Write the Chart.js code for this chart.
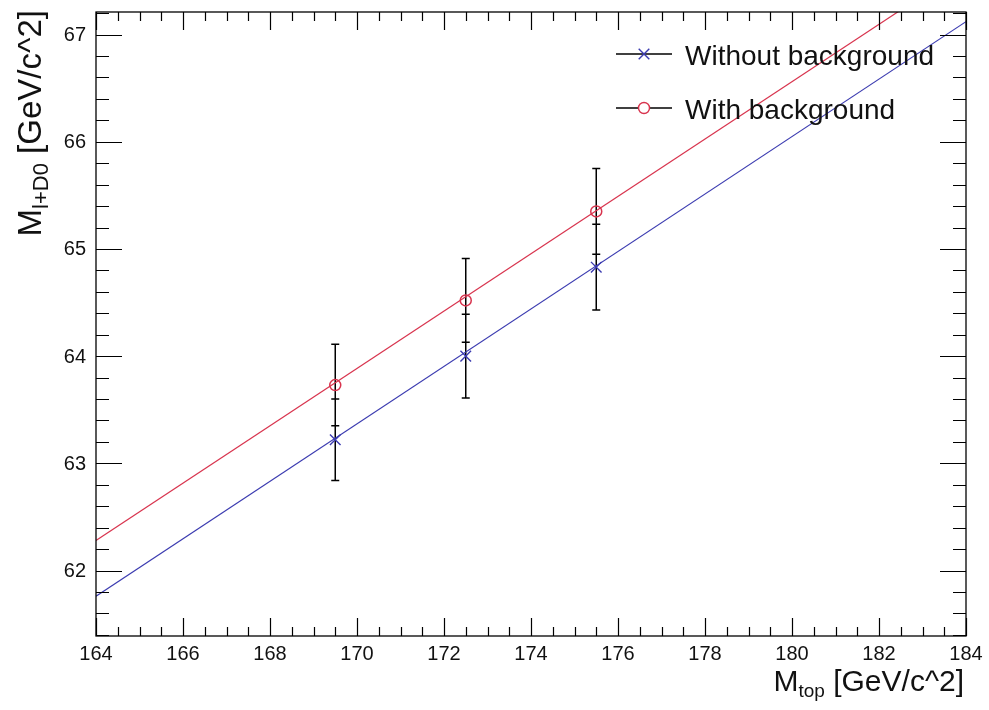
<!DOCTYPE html>
<html>
<head>
<meta charset="utf-8">
<script src="https://cdn.jsdelivr.net/npm/chart.js@4.4.1/dist/chart.umd.min.js"></script>
<style>
  html, body { margin: 0; padding: 0; background: #fff; }
  #wrap { width: 989px; height: 710px; }
</style>
</head>
<body>
<div id="wrap"><canvas id="massChart" width="989" height="710"></canvas></div>
<script>
// generated top masses and reconstructed M(l+D0) peak positions
const mTop = [169.5, 172.5, 175.5];
const noBkg = [63.22, 64.00, 64.83];
const noBkgErr = [0.38, 0.39, 0.40];
const withBkg = [63.73, 64.52, 65.35];
const withBkgErr = [0.38, 0.39, 0.40];

// straight-line fits, end points at the axis limits
const fitX = [164, 184];
const fitNoBkg = [61.76, 67.12];
const fitWithBkg = [62.28, 67.63];

const xRange = [164, 184];
const yRange = [61.39, 67.21];
const xLabels = ['164', '166', '168', '170', '172', '174', '176', '178', '180', '182', '184'];
const yLabels = ['62', '63', '64', '65', '66', '67'];

const BLUE = '#3b3bb0';
const RED = '#d8344e';
const INK = '#111';
const FONT = '"Liberation Sans", Arial, Helvetica, sans-serif';

const pts = (xs, ys) => xs.map((x, i) => ({ x: x, y: ys[i] }));

// ROOT-like frame: ticks inside on all four sides, numbers outside
const frameTicks = {
  id: 'frameTicks',
  afterDraw(chart) {
    const { ctx, chartArea: a, scales } = chart;
    const xs = scales.x, ys = scales.y;
    ctx.save();
    ctx.strokeStyle = '#000';
    ctx.lineWidth = 1.3;
    ctx.strokeRect(a.left, a.top, a.right - a.left, a.bottom - a.top);

    ctx.beginPath();
    for (let i = Math.ceil(xs.min / 0.5); i * 0.5 <= xs.max + 1e-9; i++) {
      const px = Math.round(xs.getPixelForValue(i * 0.5)) + 0.5;
      const len = (i % 4 === 0) ? 18 : 9;
      ctx.moveTo(px, a.bottom); ctx.lineTo(px, a.bottom - len);
      ctx.moveTo(px, a.top); ctx.lineTo(px, a.top + len);
    }
    for (let i = Math.ceil(ys.min / 0.2 - 1e-9); i * 0.2 <= ys.max + 1e-9; i++) {
      const py = Math.round(ys.getPixelForValue(i * 0.2)) + 0.5;
      const len = (i % 5 === 0) ? 26 : 13;
      ctx.moveTo(a.left, py); ctx.lineTo(a.left + len, py);
      ctx.moveTo(a.right, py); ctx.lineTo(a.right - len, py);
    }
    ctx.lineWidth = 1.2;
    ctx.stroke();

    ctx.fillStyle = INK;
    ctx.font = `20px ${FONT}`;
    ctx.textAlign = 'center';
    ctx.textBaseline = 'alphabetic';
    xLabels.forEach(t => ctx.fillText(t, xs.getPixelForValue(+t), a.bottom + 24));
    ctx.textAlign = 'right';
    ctx.textBaseline = 'middle';
    yLabels.forEach(t => ctx.fillText(t, a.left - 10, ys.getPixelForValue(+t) + 1));
    ctx.restore();
  }
};

// vertical error bars with small caps, drawn under the markers
const errorBars = {
  id: 'errorBars',
  beforeDatasetsDraw(chart) {
    const { ctx, scales } = chart;
    const sets = [[noBkg, noBkgErr], [withBkg, withBkgErr]];
    ctx.save();
    ctx.strokeStyle = '#000';
    ctx.lineWidth = 1.5;
    ctx.beginPath();
    sets.forEach(([vals, errs]) => {
      vals.forEach((v, i) => {
        const px = scales.x.getPixelForValue(mTop[i]);
        const lo = scales.y.getPixelForValue(v - errs[i]);
        const hi = scales.y.getPixelForValue(v + errs[i]);
        ctx.moveTo(px, lo); ctx.lineTo(px, hi);
        ctx.moveTo(px - 4, lo); ctx.lineTo(px + 4, lo);
        ctx.moveTo(px - 4, hi); ctx.lineTo(px + 4, hi);
      });
    });
    ctx.stroke();
    ctx.restore();
  }
};

function drawParts(ctx, parts) {
  let x = 0;
  parts.forEach(p => {
    ctx.font = p.font;
    ctx.fillText(p.text, x, p.dy);
    x += ctx.measureText(p.text).width;
  });
}
function partsWidth(ctx, parts) {
  return parts.reduce((w, p) => { ctx.font = p.font; return w + ctx.measureText(p.text).width; }, 0);
}

// axis titles with subscripts, and the legend
const annotations = {
  id: 'annotations',
  afterDraw(chart) {
    const { ctx } = chart;
    ctx.save();
    ctx.fillStyle = INK;
    ctx.textBaseline = 'alphabetic';

    const xTitle = [
      { text: 'M', font: `30px ${FONT}`, dy: 0 },
      { text: 'top', font: `19px ${FONT}`, dy: 6 },
      { text: ' [GeV/c^2]', font: `30px ${FONT}`, dy: 0 }
    ];
    ctx.save();
    ctx.translate(964 - partsWidth(ctx, xTitle), 691);
    drawParts(ctx, xTitle);
    ctx.restore();

    const yTitle = [
      { text: 'M', font: `33px ${FONT}`, dy: 0 },
      { text: 'l+D0', font: `22px ${FONT}`, dy: 7 },
      { text: ' [GeV/c^2]', font: `33px ${FONT}`, dy: 0 }
    ];
    ctx.save();
    ctx.translate(41, 10 + partsWidth(ctx, yTitle));
    ctx.rotate(-Math.PI / 2);
    drawParts(ctx, yTitle);
    ctx.restore();

    // legend entries: black line, coloured marker, label
    const entries = [
      { label: 'Without background', style: 'crossRot', color: BLUE, y: 54 },
      { label: 'With background', style: 'circle', color: RED, y: 108 }
    ];
    entries.forEach(e => {
      ctx.strokeStyle = '#000';
      ctx.lineWidth = 1.3;
      ctx.beginPath();
      ctx.moveTo(616, e.y); ctx.lineTo(672, e.y);
      ctx.stroke();
      ctx.fillStyle = '#fff';
      ctx.strokeStyle = e.color;
      ctx.lineWidth = 1.4;
      Chart.helpers.drawPoint(ctx, { pointStyle: e.style, radius: e.style === 'circle' ? 5.5 : 7.5, borderWidth: 1.4 }, 644, e.y);
      ctx.fillStyle = INK;
      ctx.font = `28px ${FONT}`;
      ctx.fillText(e.label, 685, e.y + 11);
    });
    ctx.restore();
  }
};

new Chart(document.getElementById('massChart'), {
  type: 'scatter',
  data: {
    datasets: [
      {
        label: 'Without background',
        data: pts(mTop, noBkg),
        pointStyle: 'crossRot',
        pointRadius: 7.5,
        pointBorderWidth: 1.4,
        borderColor: BLUE,
        backgroundColor: BLUE
      },
      {
        label: 'With background',
        data: pts(mTop, withBkg),
        pointStyle: 'circle',
        pointRadius: 5.5,
        pointBorderWidth: 1.5,
        borderColor: RED,
        backgroundColor: 'rgba(0,0,0,0)'
      },
      {
        type: 'line',
        label: 'fit without background',
        data: pts(fitX, fitNoBkg),
        borderColor: BLUE,
        borderWidth: 1.2,
        pointRadius: 0,
        showLine: true,
        fill: false
      },
      {
        type: 'line',
        label: 'fit with background',
        data: pts(fitX, fitWithBkg),
        borderColor: RED,
        borderWidth: 1.2,
        pointRadius: 0,
        showLine: true,
        fill: false
      }
    ]
  },
  options: {
    responsive: false,
    animation: false,
    layout: { padding: { top: 12, right: 23, left: 0, bottom: 0 } },
    plugins: {
      legend: { display: false },
      tooltip: { enabled: false }
    },
    scales: {
      x: {
        type: 'linear',
        min: xRange[0],
        max: xRange[1],
        grid: { display: false, drawTicks: false },
        border: { display: false },
        ticks: { display: false, stepSize: 2 },
        afterFit(scale) { scale.height = 74; }
      },
      y: {
        type: 'linear',
        min: yRange[0],
        max: yRange[1],
        grid: { display: false, drawTicks: false },
        border: { display: false },
        ticks: { display: false, stepSize: 1 },
        afterFit(scale) { scale.width = 96; }
      }
    }
  },
  plugins: [errorBars, frameTicks, annotations]
});
</script>
</body>
</html>
